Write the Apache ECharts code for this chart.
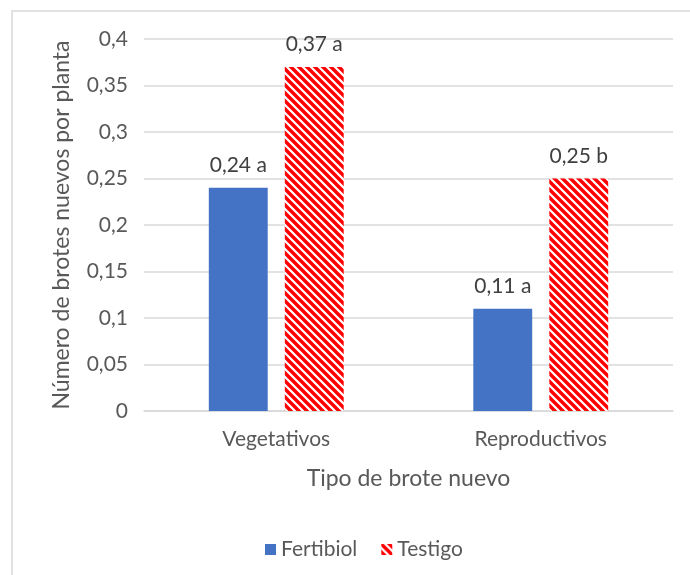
<!DOCTYPE html>
<html><head><meta charset="utf-8">
<script src="https://cdn.jsdelivr.net/npm/echarts@6/dist/echarts.min.js"></script>
<style>html,body{margin:0;padding:0;background:#fff}#c{width:690px;height:575px}</style>
</head><body><div id="c"></div>
<script>
const categories = ['Vegetativos', 'Reproductivos'];
const fertibiol = [0.24, 0.11];
const fertibiolLetters = ['a', 'a'];
const testigo = [0.37, 0.25];
const testigoLetters = ['a', 'b'];
const yTicks = {min: 0, max: 0.4, interval: 0.05};

function stripePattern() {
  const s = 8;
  const cv = document.createElement('canvas');
  cv.width = s; cv.height = s;
  const ctx = cv.getContext('2d');
  ctx.fillStyle = '#ffffff';
  ctx.fillRect(0, 0, s, s);
  ctx.strokeStyle = '#ff0000';
  ctx.lineWidth = 3.4;
  ctx.beginPath();
  ctx.moveTo(-2, -2); ctx.lineTo(s + 2, s + 2);
  ctx.moveTo(-2, s - 2); ctx.lineTo(2, s + 2);
  ctx.moveTo(s - 2, -2); ctx.lineTo(s + 2, 2);
  ctx.stroke();
  return cv;
}
const fmt = v => String(+(+v).toFixed(2)).replace('.', ',');
const font = 'Lato';
const chart = echarts.init(document.getElementById('c'), null, {renderer: 'canvas'});
chart.setOption({
  animation: false,
  textStyle: {fontFamily: font},
  graphic: [{type: 'rect', shape: {x: 12, y: 11, width: 700, height: 600}, style: {fill: 'none', stroke: '#d9d9d9', lineWidth: 1.5}, z: -1}],
  grid: {left: 144, right: 17, top: 39, bottom: 164},
  legend: {
    top: 534, left: 260, itemWidth: 11, itemHeight: 11, itemGap: 24,
    textStyle: {fontSize: 21, color: '#595959', fontFamily: font},
    data: [{name: 'Fertibiol', icon: 'rect'}, {name: 'Testigo', icon: 'rect'}]
  },
  xAxis: {
    type: 'category', data: categories,
    name: 'Tipo de brote nuevo', nameLocation: 'middle', nameGap: 56,
    nameTextStyle: {fontSize: 23, color: '#595959', fontFamily: font},
    axisLine: {lineStyle: {color: '#d9d9d9', width: 1.5}},
    axisTick: {show: false},
    axisLabel: {fontSize: 21, color: '#595959', margin: 18, fontFamily: font}
  },
  yAxis: {
    type: 'value', min: yTicks.min, max: yTicks.max, interval: yTicks.interval,
    name: 'Número de brotes nuevos por planta', nameLocation: 'middle', nameGap: 71,
    nameTextStyle: {fontSize: 23, color: '#595959', fontFamily: font},
    axisLine: {show: false}, axisTick: {show: false},
    axisLabel: {fontSize: 21, color: '#595959', margin: 16, formatter: fmt, fontFamily: font},
    splitLine: {lineStyle: {color: '#d9d9d9', width: 1.5}}
  },
  series: [
    {
      name: 'Fertibiol', type: 'bar', data: fertibiol,
      barGap: '29%', barCategoryGap: '49%',
      itemStyle: {color: '#4472c4'},
      label: {show: true, position: 'top', distance: 12, fontSize: 21, color: '#404040', fontFamily: font,
        formatter: p => fmt(p.value) + ' ' + fertibiolLetters[p.dataIndex]}
    },
    {
      name: 'Testigo', type: 'bar', data: testigo,
      itemStyle: {color: {image: stripePattern(), repeat: 'repeat'}},
      label: {show: true, position: 'top', distance: 12, fontSize: 21, color: '#404040', fontFamily: font,
        formatter: p => fmt(p.value) + ' ' + testigoLetters[p.dataIndex]}
    }
  ]
});
</script></body></html>
